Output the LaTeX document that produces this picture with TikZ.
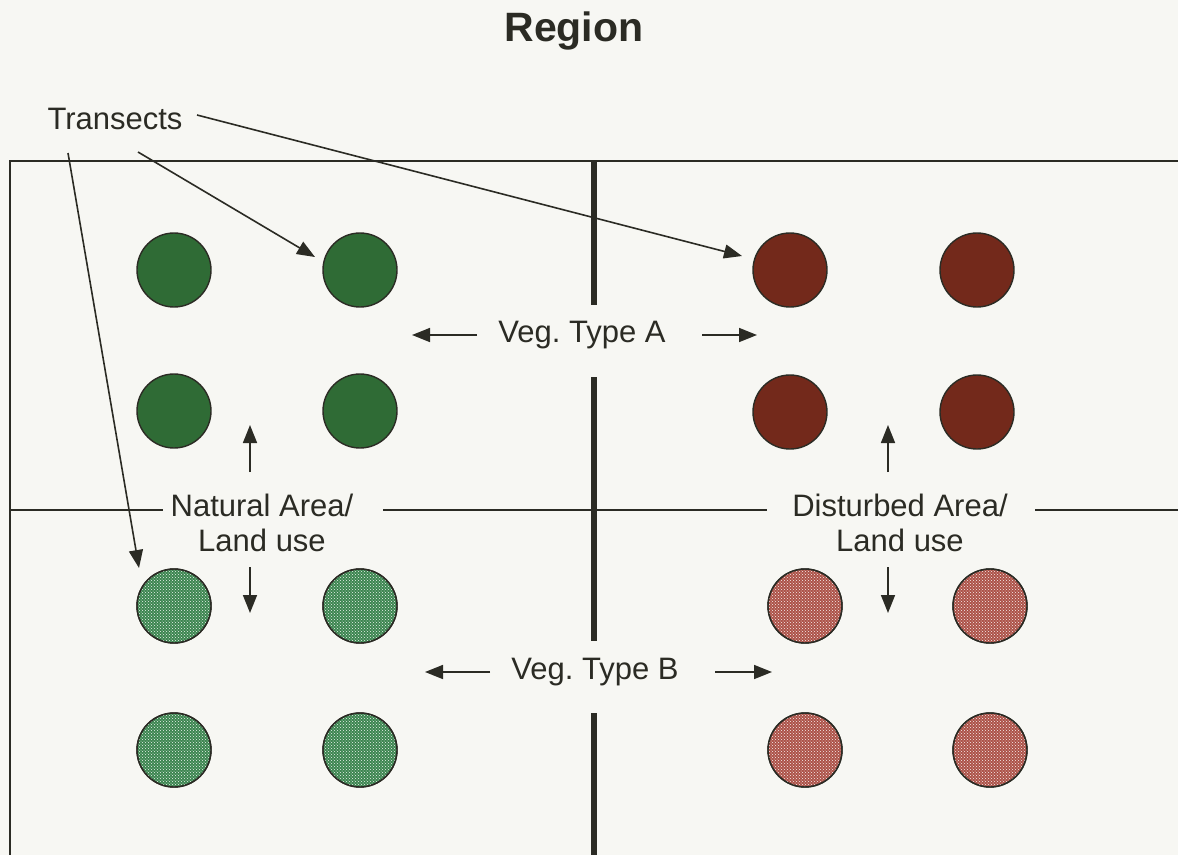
\documentclass[tikz,border=0pt]{standalone}
\usepackage{fontspec}
\setmainfont{Liberation Sans}
\usetikzlibrary{arrows.meta,patterns}
\definecolor{bg}{HTML}{F7F7F3}
\definecolor{ink}{HTML}{2B2B24}
\definecolor{dgreen}{HTML}{2F6B35}
\definecolor{dbrown}{HTML}{73291B}
\definecolor{lgreen}{HTML}{3C8550}
\definecolor{lbrown}{HTML}{AC5248}
\frenchspacing
\begin{document}
\begin{tikzpicture}[x=1pt,y=-1pt,
  frameline/.style={draw=ink,line width=1.6pt},
  divider/.style={draw=ink,line width=6pt},
  dot/.style={circle,draw=ink,line width=1.4pt,minimum size=74pt,inner sep=0pt},
  darkg/.style={dot,fill=dgreen},
  darkb/.style={dot,fill=dbrown},
  lightg/.style={dot,fill=lgreen,postaction={pattern=crosshatch dots,pattern color=white!90!lgreen},postaction={draw=ink,line width=1.4pt}},
  lightb/.style={dot,fill=lbrown,postaction={pattern=crosshatch dots,pattern color=white!90!lbrown},postaction={draw=ink,line width=1.4pt}},
  lbl/.style={font=\fontsize{31}{35}\selectfont,text=ink,align=center,inner sep=0pt},
  arr/.style={draw=ink,line width=1.6pt,-{Triangle[length=18pt,width=14pt]}}
]
\fill[bg] (0,0) rectangle (1178,855);
\useasboundingbox (0,0) rectangle (1178,855);

% frame
\coordinate (tr) at (1178,161);
\coordinate (tl) at (10,161);
\coordinate (bl) at (10,855);
\draw[frameline] (tr) -- (tl) -- (bl);

% text
\node[font=\bfseries\fontsize{41}{45}\selectfont,text=ink,inner sep=0pt] (title) at (574,31) {Region};
\node[lbl] (trans) at (115,119) {Transects};
\node[lbl] (vegA) at (582,335) {Veg. Type A};
\node[lbl] (vegB) at (595,672) {Veg. Type B};
\node[lbl] (nat) at (262,523) {Natural Area/\\Land use};
\node[lbl] (dist) at (900,523) {Disturbed Area/\\Land use};

% horizontal divider
\coordinate (h1) at (10,510);
\coordinate (h2) at (163,510);
\coordinate (h3) at (383,510);
\coordinate (h4) at (767,510);
\coordinate (h5) at (1035,510);
\coordinate (h6) at (1178,510);
\draw[frameline] (h1) -- (h2);
\draw[frameline] (h3) -- (h4);
\draw[frameline] (h5) -- (h6);

% vertical divider
\coordinate (v1) at (594,161);
\coordinate (v2) at (594,305);
\coordinate (v3) at (594,377);
\coordinate (v4) at (594,641);
\coordinate (v5) at (594,713);
\coordinate (v6) at (594,855);
\draw[divider] (v1) -- (v2);
\draw[divider] (v3) -- (v4);
\draw[divider] (v5) -- (v6);

% circles
\node[darkg] (g1) at (174,270) {};
\node[darkg] (g2) at (360,270) {};
\node[darkg] (g3) at (174,411) {};
\node[darkg] (g4) at (360,411) {};
\node[darkb] (b1) at (790,270) {};
\node[darkb] (b2) at (977,270) {};
\node[darkb] (b3) at (790,412) {};
\node[darkb] (b4) at (977,412) {};
\node[lightg] (lg1) at (174,606) {};
\node[lightg] (lg2) at (360,606) {};
\node[lightg] (lg3) at (174,750) {};
\node[lightg] (lg4) at (360,750) {};
\node[lightb] (lb1) at (805,606) {};
\node[lightb] (lb2) at (990,606) {};
\node[lightb] (lb3) at (805,750) {};
\node[lightb] (lb4) at (990,750) {};

% Veg type arrows
\coordinate (aL1) at (477,335); \coordinate (aL2) at (412,335);
\coordinate (aR1) at (702,335); \coordinate (aR2) at (757,335);
\draw[arr] (aL1) -- (aL2);
\draw[arr] (aR1) -- (aR2);
\coordinate (bL1) at (490,672); \coordinate (bL2) at (425,672);
\coordinate (bR1) at (715,672); \coordinate (bR2) at (772,672);
\draw[arr] (bL1) -- (bL2);
\draw[arr] (bR1) -- (bR2);

% area arrows
\coordinate (nu1) at (250,472); \coordinate (nu2) at (250,425);
\coordinate (nd1) at (250,567); \coordinate (nd2) at (250,613);
\draw[arr] (nu1) -- (nu2);
\draw[arr] (nd1) -- (nd2);
\coordinate (du1) at (888,472); \coordinate (du2) at (888,425);
\coordinate (dd1) at (888,567); \coordinate (dd2) at (888,613);
\draw[arr] (du1) -- (du2);
\draw[arr] (dd1) -- (dd2);

% transect arrows
\coordinate (t1s) at (197,115); \coordinate (t1e) at (742,256);
\coordinate (t2s) at (138,152); \coordinate (t2e) at (315,257);
\coordinate (t3s) at (68,153);  \coordinate (t3e) at (139,568);
\draw[arr] (t1s) -- (t1e);
\draw[arr] (t2s) -- (t2e);
\draw[arr] (t3s) -- (t3e);
\end{tikzpicture}
\end{document}
